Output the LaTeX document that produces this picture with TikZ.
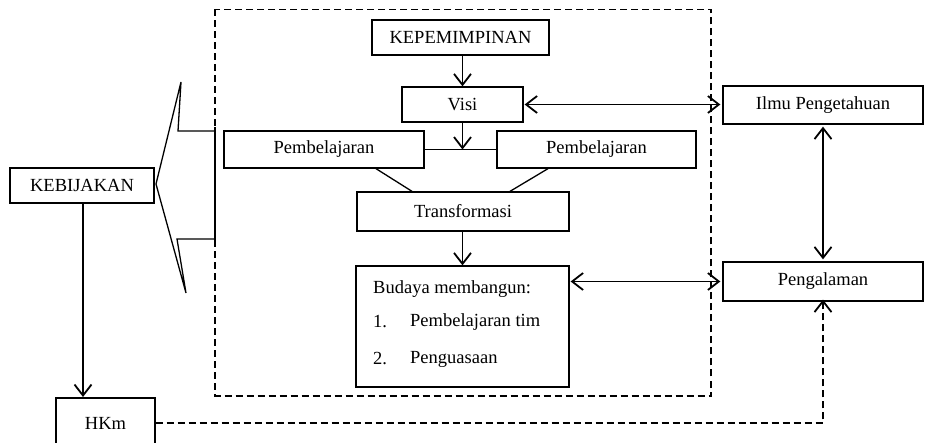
\documentclass[tikz,border=0pt]{standalone}
\usepackage{fontspec}
\setmainfont{Liberation Serif}
\usetikzlibrary{arrows.meta,calc}
\begin{document}
\begin{tikzpicture}[x=1pt,y=-1pt,
  tip/.tip={Straight Barb[length=11pt,width=17pt,line width=1.8pt]},
  box/.style={draw,line width=1.3pt,inner sep=0pt,font=\fontsize{18.5}{21}\selectfont},
  arr/.style={line width=1.8pt,-tip},
  darr/.style={line width=1.8pt,tip-tip},
  plain/.style={line width=1.3pt},
  dsh/.style={line width=1.3pt,dash pattern=on 7pt off 4pt},
  txt/.style={inner sep=0pt,anchor=west,font=\fontsize{18.5}{21}\selectfont}]
\useasboundingbox (0,0) rectangle (929,443);
\clip (0,0) rectangle (929,443);
% frame
\draw[dsh] (215,9.5) rectangle (711,396);
% nodes
\node[box,minimum width=177pt,minimum height=35pt] (kep) at (460.5,37.5) {KEPEMIMPINAN};
\node[box,minimum width=121pt,minimum height=35pt] (visi) at (462.5,104.5) {Visi};
\node[box,minimum width=200pt,minimum height=37pt] (pl) at (324,149.5) {Pembelajaran};
\node[box,minimum width=199pt,minimum height=37pt] (pr) at (596.5,149.5) {Pembelajaran};
\node[box,minimum width=212pt,minimum height=39pt] (trans) at (463,211.5) {Transformasi};
\node[box,minimum width=213pt,minimum height=121pt] (bud) at (462.5,326.5) {};
\node[txt] (b0) at (373,289) {Budaya membangun:};
\node[txt] (b1) at (373,322) {1.};
\node[txt] (b1t) at (410,322) {Pembelajaran tim};
\node[txt] (b2) at (373,359) {2.};
\node[txt] (b2t) at (410,359) {Penguasaan};
\node[box,minimum width=200pt,minimum height=38pt] (ilmu) at (823,105) {Ilmu Pengetahuan};
\node[box,minimum width=200pt,minimum height=39pt] (peng) at (823,281.5) {Pengalaman};
\node[box,minimum width=144pt,minimum height=35pt] (keb) at (82,185.5) {KEBIJAKAN};
\node[box,minimum width=99pt,minimum height=50pt] (hkm) at (105.5,423) {HKm};
% connectors
\draw[arr] (kep.south -| visi.south) -- (visi.north);
\draw[plain] (pl.east) -- (pr.west);
\draw[arr] (visi.south) -- (visi.south |- pl.east);
\draw[plain] ([xshift=52pt]pl.south) -- ([xshift=-51pt]trans.north);
\draw[plain] ([xshift=-48.5pt]pr.south) -- ([xshift=47pt]trans.north);
\draw[arr] (trans.south -| bud.north) -- (bud.north);
\draw[darr,shorten <=1pt,shorten >=2pt] (visi.east) -- (visi.east -| ilmu.west);
\draw[darr,shorten <=1pt,shorten >=2pt] (peng.west -| bud.east) -- (peng.west);
\draw[darr,shorten <=2pt,shorten >=2pt] (ilmu.south) -- (peng.north);
\draw[arr] (keb.south -| 83,0) -- (83,397);
\draw[dsh,-tip] (hkm.east) -| ([yshift=2pt]peng.south);
% callout arrow
\draw[plain,line join=miter] (215,131) -- (178,131) -- (181,82) -- (156,184) -- (186,293) -- (177,239) -- (215,239);
\draw[plain] (215,127) -- (215,241);
\end{tikzpicture}
\end{document}
